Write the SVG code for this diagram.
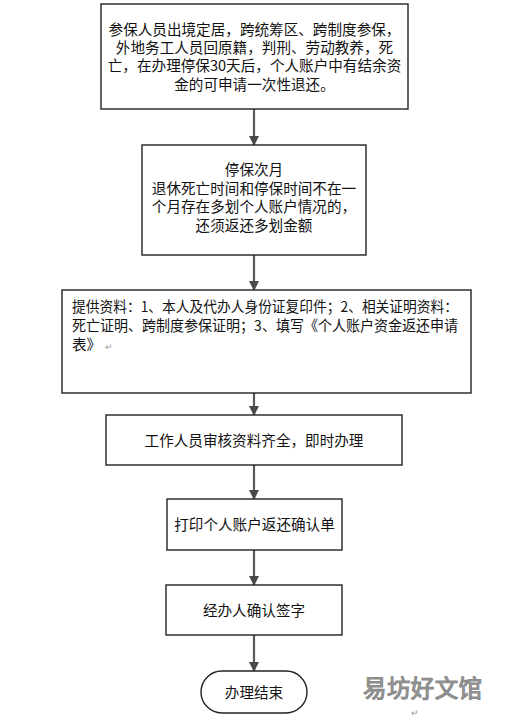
<svg xmlns="http://www.w3.org/2000/svg" width="510" height="719" viewBox="0 0 510 719">
<defs>
<style>
.box{fill:#fff;stroke:#222;stroke-width:1.4}
.t{font-family:"Noto Sans CJK SC","Noto Sans",sans-serif;font-size:14.6px;fill:#111}
.c{text-anchor:middle}
.con{stroke:#5a5a5a;stroke-width:2.2;fill:none}
.mark{font-family:"Noto Sans CJK SC",sans-serif;fill:#999}
</style>
<marker id="ah" markerWidth="10" markerHeight="10" refX="9" refY="5" orient="auto" markerUnits="userSpaceOnUse">
<path d="M0,0 L10,5 L0,10 Z" fill="#4a4a4a"/>
</marker>
</defs>
<rect width="510" height="719" fill="#fff"/>
<g id="connectors">
<line class="con" x1="254" y1="109" x2="254" y2="145" marker-end="url(#ah)"/>
<line class="con" x1="254" y1="255" x2="254" y2="290" marker-end="url(#ah)"/>
<line class="con" x1="254" y1="393" x2="254" y2="415" marker-end="url(#ah)"/>
<line class="con" x1="254" y1="465" x2="254" y2="499" marker-end="url(#ah)"/>
<line class="con" x1="254" y1="550" x2="254" y2="585" marker-end="url(#ah)"/>
<line class="con" x1="254" y1="635" x2="254" y2="671" marker-end="url(#ah)"/>
</g>
<g id="n1">
<rect class="box" x="101" y="4" width="307" height="105"/>
<text class="t c" x="254.5" y="35">参保人员出境定居，跨统筹区、跨制度参保，</text>
<text class="t c" x="254.5" y="53">外地务工人员回原籍，判刑、劳动教养，死</text>
<text class="t c" x="254.5" y="71">亡，在办理停保30天后，个人账户中有结余资</text>
<text class="t c" x="254.5" y="90">金的可申请一次性退还。</text>
</g>
<g id="n2">
<rect class="box" x="142" y="145" width="224" height="110"/>
<text class="t c" x="254" y="175" font-size="14">停保次月</text>
<text class="t c" x="254" y="193.5" font-size="14">退休死亡时间和停保时间不在一</text>
<text class="t c" x="254" y="212" font-size="14">个月存在多划个人账户情况的，</text>
<text class="t c" x="254" y="230.5" font-size="14">还须返还多划金额</text>
</g>
<g id="n3">
<rect class="box" x="62" y="290" width="409" height="103"/>
<text class="t" x="72" y="312" font-size="13.4" textLength="386" lengthAdjust="spacingAndGlyphs">提供资料：1、本人及代办人身份证复印件；2、相关证明资料：</text>
<text class="t" x="72" y="331" font-size="13.4" textLength="386" lengthAdjust="spacingAndGlyphs">死亡证明、跨制度参保证明；3、填写《个人账户资金返还申请</text>
<text class="t" x="72" y="350" font-size="13.4">表》<tspan fill="#999" font-size="9" dx="4">↵</tspan></text>
</g>
<g id="n4">
<rect class="box" x="106" y="415" width="296" height="50"/>
<text class="t c" x="254" y="445.5">工作人员审核资料齐全，即时办理</text>
</g>
<g id="n5">
<rect class="box" x="167" y="499" width="175" height="51"/>
<text class="t c" x="254.5" y="529.5">打印个人账户返还确认单</text>
</g>
<g id="n6">
<rect class="box" x="166" y="585" width="176" height="50"/>
<text class="t c" x="254" y="615.5">经办人确认签字</text>
</g>
<g id="n7">
<rect class="box" x="201" y="671" width="106" height="42" rx="21" ry="21"/>
<text class="t c" x="254" y="697.5">办理结束</text>
</g>
<text class="mark" x="363" y="697" font-size="23.5" fill="#fff" stroke="#8a8a8a" stroke-width="1.1" textLength="119">易坊好文馆</text>
<text class="mark" x="411" y="716" font-size="9">↵</text>
</svg>
